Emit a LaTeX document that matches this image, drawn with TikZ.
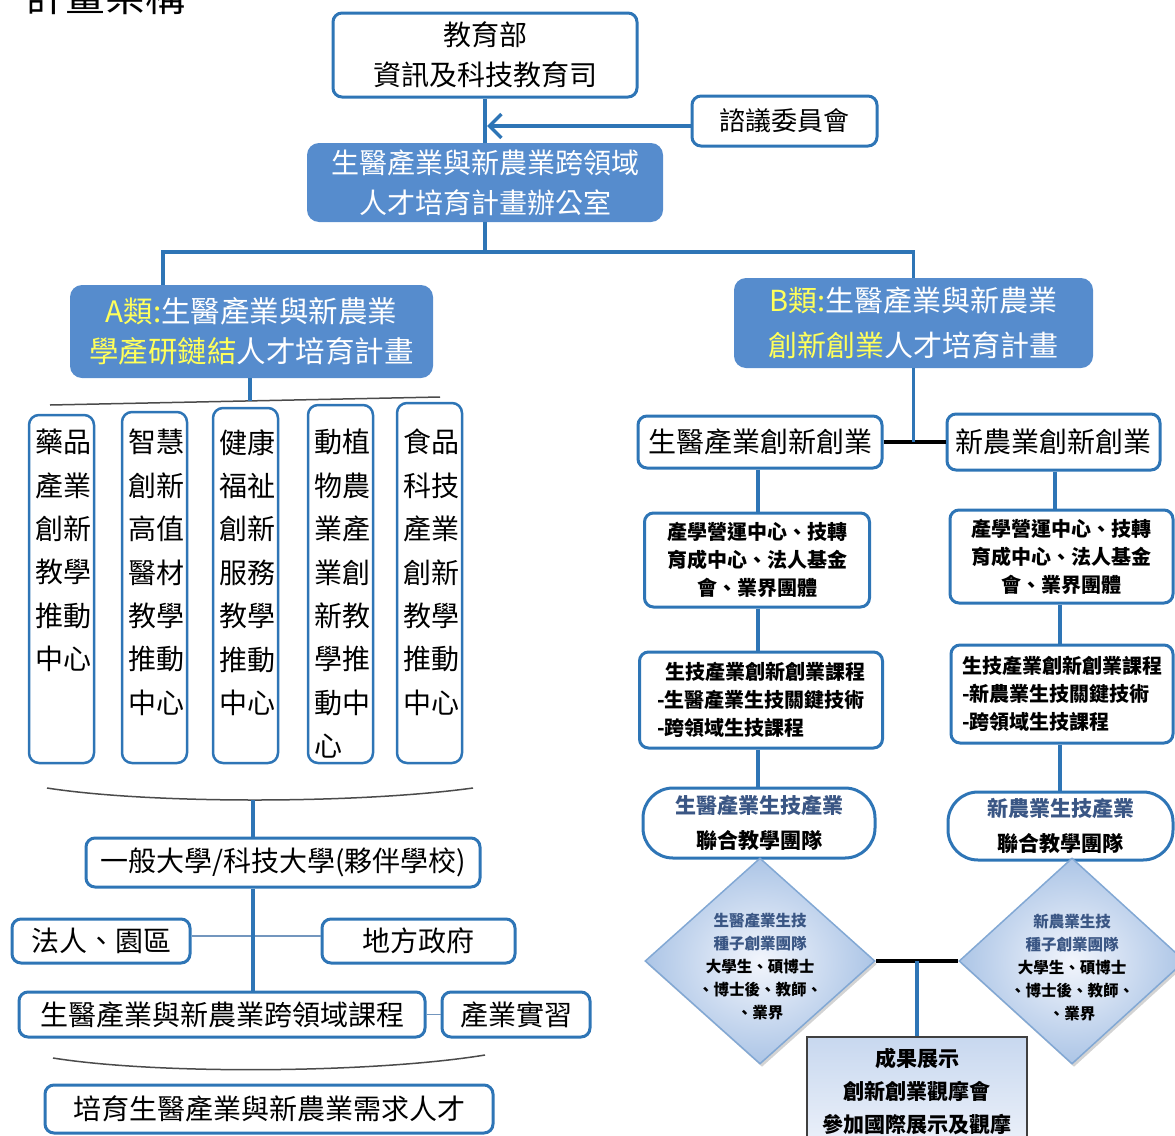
\documentclass[tikz,border=0pt]{standalone}
\usepackage{fontspec}
\setmainfont{Noto Sans CJK TC}
\usetikzlibrary{arrows.meta,shapes.geometric,shadows}
\definecolor{bblue}{RGB}{46,117,182}
\definecolor{fblue}{RGB}{86,140,205}
\definecolor{ayel}{RGB}{255,255,90}
\definecolor{slate}{RGB}{58,86,132}
\definecolor{dborder}{RGB}{130,168,212}
\definecolor{tlinecol}{RGB}{115,150,190}
\definecolor{curvecol}{RGB}{75,75,75}
\definecolor{dinner}{RGB}{242,245,252}
\definecolor{douter}{RGB}{172,197,230}
\definecolor{rtop}{RGB}{200,216,239}
\definecolor{rbot}{RGB}{236,241,250}
\definecolor{rborder}{RGB}{64,64,64}
\begin{document}
\begin{tikzpicture}[x=1pt,y=-1pt,
  wbox/.style={draw=bblue, line width=3pt, rounded corners=9pt, fill=white, inner sep=0pt, align=center},
  bluebox/.style={fill=fblue, rounded corners=12pt, text=white, inner sep=0pt, align=center},
  vbox/.style={draw=bblue, line width=2.5pt, rounded corners=10pt, fill=white, minimum width=65pt, inner sep=0pt},
  vtext/.style={font=\fontsize{28}{43.4}\selectfont, align=left, anchor=north west, inner sep=0pt},
  conn/.style={draw=bblue, line width=3.5pt},
  blk/.style={draw=black, line width=4pt},
  tline/.style={draw=tlinecol, line width=1.2pt},
  curv/.style={draw=curvecol, line width=1.5pt},
  fA/.style={font=\fontsize{28}{40}\selectfont},
  fB/.style={font=\bfseries\fontsize{20}{28}\selectfont},
  dmd/.style={diamond, draw=dborder, line width=1.5pt, inner sep=0pt, inner color=dinner, outer color=douter,
    drop shadow={shadow xshift=2pt, shadow yshift=-3pt, opacity=0.35, fill=black!50}},
  dtext/.style={font=\bfseries\fontsize{15.5}{23}\selectfont, align=center, inner sep=0pt}
]
\useasboundingbox (0,0) rectangle (1175,1135);
\begin{scope}
\clip (0,0) rectangle (1175,1135);
\node[anchor=base west, inner sep=0pt, font=\fontsize{40}{40}\selectfont] (title) at (25,11) {計畫架構};

% ---- top part
\node[wbox, minimum width=304pt, minimum height=84pt, fA] (top) at (485,55) {教育部\\資訊及科技教育司};
\node[wbox, minimum width=185pt, minimum height=50pt, font=\fontsize{26}{30}\selectfont] (council) at (784.5,121) {諮議委員會};
\node[bluebox, minimum width=356pt, minimum height=79pt, fA] (office) at (485,182.5) {生醫產業與新農業跨領域\\人才培育計畫辦公室};
\coordinate (tip) at (487,126);
\draw[conn] (top.south) -- (office.north);
\draw[conn, -{Straight Barb[length=12pt,width=24pt]}] ([yshift=-5pt]council.west) -- (tip);

\node[bluebox, minimum width=363pt, minimum height=93pt, font=\fontsize{29.5}{40}\selectfont] (Abox) at (251.5,331.5)
  {\textcolor{ayel}{A類:}生醫產業與新農業\\\textcolor{ayel}{學產研鏈結}人才培育計畫};
\node[bluebox, minimum width=359pt, minimum height=90pt, font=\fontsize{29}{45}\selectfont] (Bbox) at (913.5,323)
  {\textcolor{ayel}{B類:}生醫產業與新農業\\\textcolor{ayel}{創新創業}人才培育計畫};
\coordinate (jA) at (163,252);
\coordinate (jB) at (913.5,252);
\draw[conn] (office.south) -- (office.south |- jA);
\draw[conn, line join=miter] (Abox.north -| jA) -- (jA) -- (jB) -- (Bbox.north -| jB);

% ---- A branch
\draw[curv] (50,405) -- (440,397);
\coordinate (gA) at (250,401);
\draw[conn] (Abox.south -| gA) -- (gA);

\node[vbox, minimum height=348pt] (c1) at (61.5,589) {};
\node[vbox, minimum height=351pt] (c2) at (154.5,587.5) {};
\node[vbox, minimum height=355pt] (c3) at (245.5,585.5) {};
\node[vbox, minimum height=358pt] (c4) at (340.5,584) {};
\node[vbox, minimum height=360pt] (c5) at (429.5,583) {};
\node[vtext] (t1) at (35,429) {藥品\\產業\\創新\\教學\\推動\\中心};
\node[vtext] (t2) at (128,429) {智慧\\創新\\高值\\醫材\\教學\\推動\\中心};
\node[vtext] (t3) at (219,429) {健康\\福祉\\創新\\服務\\教學\\推動\\中心};
\node[vtext] (t4) at (314,429) {動植\\物農\\業產\\業創\\新教\\學推\\動中\\心};
\node[vtext] (t5) at (403,429) {食品\\科技\\產業\\創新\\教學\\推動\\中心};

\draw[curv] (47,788) .. controls (150,804) and (356,804) .. (473,788);
\coordinate (cv1) at (253,800);
\node[wbox, minimum width=394pt, minimum height=49pt, fA] (univ) at (283,862.5) {一般大學/科技大學(夥伴學校)};
\draw[conn] (cv1) -- (cv1 |- univ.north);
\node[wbox, minimum width=178pt, minimum height=44pt, fA] (law) at (101,941) {法人、園區};
\node[wbox, minimum width=193pt, minimum height=44pt, fA] (gov) at (418.5,941) {地方政府};
\draw[tline] ([yshift=5pt]law.east) -- ([yshift=5pt]gov.west);
\node[wbox, minimum width=406pt, minimum height=45pt, fA] (course) at (222,1014.5) {生醫產業與新農業跨領域課程};
\node[wbox, minimum width=148pt, minimum height=45pt, fA] (intern) at (516,1014.5) {產業實習};
\draw[conn] (univ.south -| cv1) -- (course.north -| cv1);
\draw[tline] (course.east) -- (intern.west);
\draw[curv] (53,1058) .. controls (160,1075) and (375,1073) .. (485,1055);
\node[wbox, minimum width=448pt, minimum height=48pt, fA] (need) at (269,1109) {培育生醫產業與新農業需求人才};

% ---- B branch
\node[wbox, minimum width=244pt, minimum height=52pt, fA] (L1) at (760,442) {生醫產業創新創業};
\node[wbox, minimum width=213pt, minimum height=56pt, fA] (R1) at (1053.5,442) {新農業創新創業};
\draw[blk] (L1.east) -- (R1.west);
\draw[conn] (Bbox.south) -- (Bbox.south |- L1.east);

\node[wbox, minimum width=225pt, minimum height=94pt, fB] (L2) at (757,560) {產學營運中心、技轉\\育成中心、法人基金\\會、業界團體};
\node[wbox, minimum width=223pt, minimum height=93pt, fB] (R2) at (1061.5,556.5) {產學營運中心、技轉\\育成中心、法人基金\\會、業界團體};
\node[wbox, minimum width=243pt, minimum height=96pt, fB, align=left] (L3) at (761,700) {\hspace*{8pt}生技產業創新創業課程\\-生醫產業生技關鍵技術\\-跨領域生技課程};
\node[wbox, minimum width=222pt, minimum height=98pt, fB, align=left] (R3) at (1062,694) {生技產業創新創業課程\\-新農業生技關鍵技術\\-跨領域生技課程};
\node[wbox, minimum width=232pt, minimum height=70pt, rounded corners=30pt, font=\bfseries\fontsize{21}{35}\selectfont] (L4) at (759,823) {\textcolor{slate}{生醫產業生技產業}\\聯合教學團隊};
\node[wbox, minimum width=225pt, minimum height=68pt, rounded corners=30pt, font=\bfseries\fontsize{21}{35}\selectfont] (R4) at (1060.5,826) {\textcolor{slate}{新農業生技產業}\\聯合教學團隊};

\coordinate (colL) at (758,0);
\coordinate (colR1) at (1055,0);
\coordinate (colR2) at (1060,0);
\draw[conn] (L1.south -| colL) -- (L2.north -| colL);
\draw[conn] (L2.south -| colL) -- (L3.north -| colL);
\draw[conn] (L3.south -| colL) -- (L4.north -| colL);
\draw[conn] (R1.south -| colR1) -- (R2.north -| colR1);
\draw[conn] (R2.south -| colR2) -- (R3.north -| colR2);
\draw[conn] (R3.south -| colR2) -- (R4.north -| colR2);

\node[dmd, minimum width=230pt, minimum height=206pt] (dl) at (760,961) {};
\node[dmd, minimum width=226pt, minimum height=206pt] (dr) at (1072,961) {};
\node[dtext] (dlt) at (760,966.5) {\textcolor{slate}{生醫產業生技}\\\textcolor{slate}{種子創業團隊}\\大學生、碩博士\\、博士後、教師、\\、業界};
\node[dtext] (drt) at (1072,967.5) {\textcolor{slate}{新農業生技}\\\textcolor{slate}{種子創業團隊}\\大學生、碩博士\\、博士後、教師、\\、業界};
\draw[blk] (dl.east) -- (dr.west);
\coordinate (jR) at (917,961);
\node[draw=rborder, line width=1.5pt, top color=rtop, bottom color=rbot, minimum width=220pt, minimum height=110pt, inner sep=0pt, align=center, font=\bfseries\fontsize{21}{33}\selectfont] (res) at (917,1092) {成果展示\\創新創業觀摩會\\參加國際展示及觀摩};
\draw[conn] (jR) -- (res.north);
\end{scope}
\end{tikzpicture}
\end{document}
